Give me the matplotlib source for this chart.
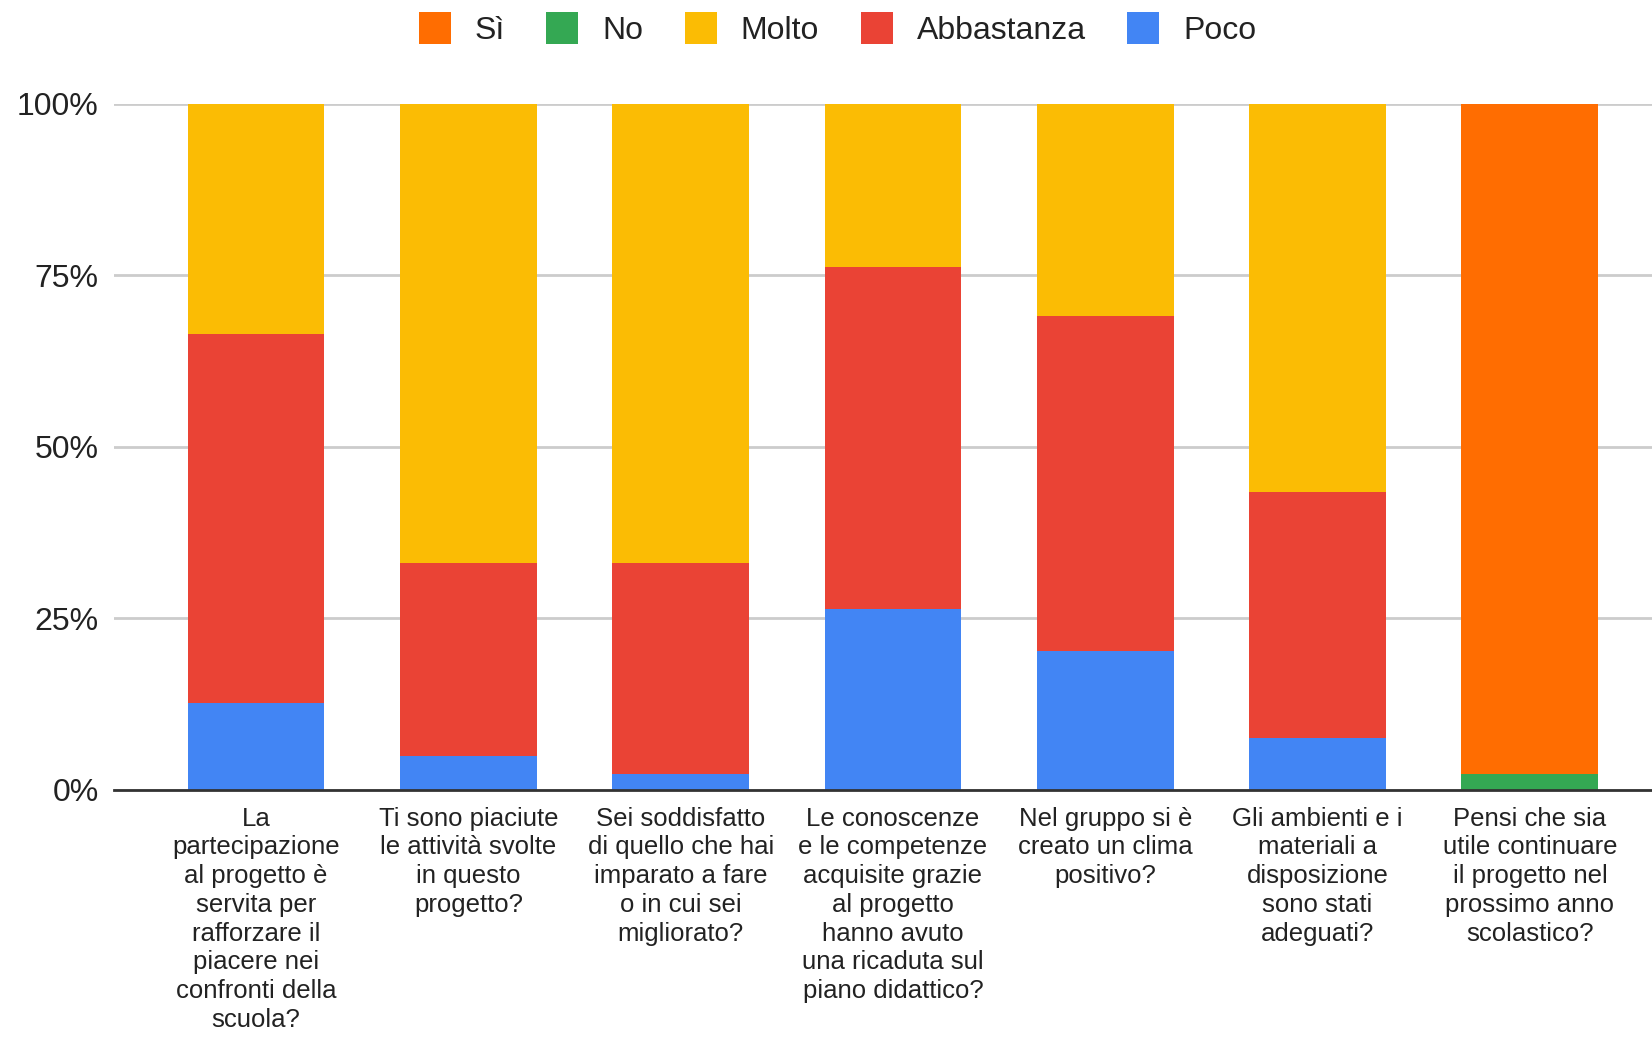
import numpy as np
import matplotlib.pyplot as plt
from matplotlib.patches import Patch

questions = [
    "La\npartecipazione\nal progetto è\nservita per\nrafforzare il\npiacere nei\nconfronti della\nscuola?",
    "Ti sono piaciute\nle attività svolte\nin questo\nprogetto?",
    "Sei soddisfatto\ndi quello che hai\nimparato a fare\no in cui sei\nmigliorato?",
    "Le conoscenze\ne le competenze\nacquisite grazie\nal progetto\nhanno avuto\nuna ricaduta sul\npiano didattico?",
    "Nel gruppo si è\ncreato un clima\npositivo?",
    "Gli ambienti e i\nmateriali a\ndisposizione\nsono stati\nadeguati?",
    "Pensi che sia\nutile continuare\nil progetto nel\nprossimo anno\nscolastico?",
]

# percent of answers per question
poco = [12.6, 4.9, 2.3, 26.3, 20.3, 7.5, 0]
abbastanza = [53.8, 28.2, 30.8, 49.9, 48.7, 35.9, 0]
molto = [33.6, 66.9, 66.9, 23.8, 31.0, 56.6, 0]
no = [0, 0, 0, 0, 0, 0, 2.3]
si = [0, 0, 0, 0, 0, 0, 97.7]

series_names = ['Sì', 'No', 'Molto', 'Abbastanza', 'Poco']
colors = {'Sì': '#FF6D01', 'No': '#34A853', 'Molto': '#FBBC04',
          'Abbastanza': '#EA4335', 'Poco': '#4285F4'}

plt.rcParams['font.family'] = ['Liberation Sans', 'DejaVu Sans']

fig = plt.figure(figsize=(16.52, 10.38), dpi=100)
ax = fig.add_axes([0.069, 0.239, 0.931, 0.661])

x = np.arange(len(questions))
w = 0.645
bottom = np.zeros(len(questions))
for name, vals in (('Poco', poco), ('Abbastanza', abbastanza), ('Molto', molto),
                   ('No', no), ('Sì', si)):
    vals = np.array(vals, dtype=float)
    ax.bar(x, vals, w, bottom=bottom, color=colors[name], zorder=3, linewidth=0)
    bottom += vals

ax.set_xlim(-0.669, 6.575)
ax.set_ylim(0, 100)
ax.set_yticks([0, 25, 50, 75, 100])
ax.set_yticklabels(['0%', '25%', '50%', '75%', '100%'], fontsize=23, color='#222222')
ax.set_xticks(x)
ax.set_xticklabels(questions, fontsize=18.5, color='#222222', linespacing=1.25, va='top')
ax.tick_params(axis='both', length=0)
ax.tick_params(axis='x', pad=12)
ax.tick_params(axis='y', pad=11)
ax.grid(axis='y', color='#cccccc', linewidth=2, zorder=0)
for s in ('top', 'right', 'left'):
    ax.spines[s].set_visible(False)
ax.spines['bottom'].set_color('#333333')
ax.spines['bottom'].set_linewidth(2)
ax.spines['bottom'].set_zorder(4)

handles = [Patch(facecolor=colors[n], edgecolor='none', label=n) for n in series_names]
fig.legend(handles=handles, loc='upper center', bbox_to_anchor=(0.507, 1.016), ncol=5,
           frameon=False, fontsize=23, handlelength=1.0, handleheight=1.15,
           handletextpad=0.75, columnspacing=1.3, labelcolor='#222222')

fig.savefig('out.png', dpi=100, facecolor='white')
